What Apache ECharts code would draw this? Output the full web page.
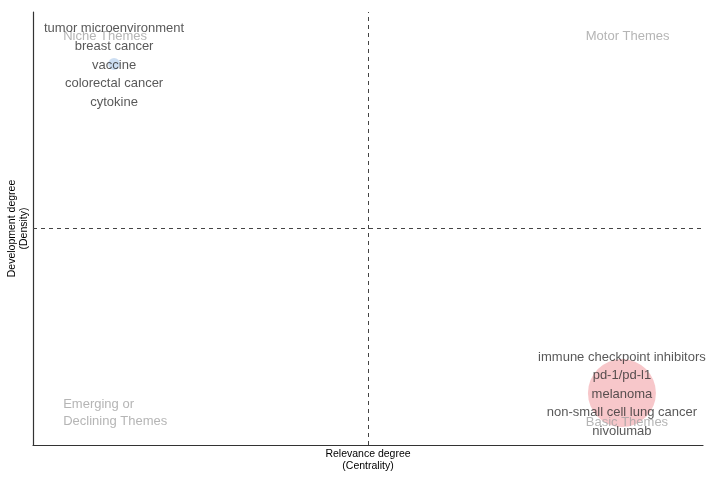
<!DOCTYPE html>
<html><head><meta charset="utf-8">
<script src="https://cdn.jsdelivr.net/npm/echarts@6/dist/echarts.min.js"></script>
<style>html,body{margin:0;padding:0;background:#fff}#c{width:715px;height:481px}</style>
</head><body><div id="c"></div>
<script>
// Cluster data
const clusterCentrality = [0.121, 0.879];
const clusterDensity = [0.88, 0.12];
const clusterSize = [12, 68];
const clusterColors = ['rgba(140,180,225,0.55)', 'rgba(235,110,118,0.48)'];
const clusterWords = [
  ['tumor microenvironment', 'breast cancer', 'vaccine', 'colorectal cancer', 'cytokine'],
  ['immune checkpoint inhibitors', 'pd-1/pd-l1', 'melanoma', 'non-small cell lung cancer', 'nivolumab']
];
// Quadrant labels
const quadrantNames = ['Niche Themes', 'Motor Themes', 'Emerging or\nDeclining Themes', 'Basic Themes'];
const quadrantX = [0.045, 0.825, 0.045, 0.825];
const quadrantY = [0.943, 0.943, 0.074, 0.053];
const midX = 0.5, midY = 0.5;

const chart = echarts.init(document.getElementById('c'));
const font = 'Liberation Sans, Arial, sans-serif';
const series = [];
clusterCentrality.forEach((cx, k) => {
  series.push({
    type: 'scatter', z: 2,
    data: [[cx, clusterDensity[k]]],
    symbolSize: clusterSize[k],
    itemStyle: { color: clusterColors[k] },
    silent: true
  });
});
series.push({
  type: 'scatter', z: 3, symbolSize: 0,
  data: quadrantNames.map((n, i) => ({ value: [quadrantX[i], quadrantY[i]], name: n })),
  label: { show: true, formatter: p => p.name, position: 'right', distance: 0,
    color: '#a3a3a3', fontSize: 13, fontFamily: font, align: 'left', lineHeight: 17 },
  silent: true
});
clusterWords.forEach((words, k) => {
  series.push({
    type: 'scatter', z: 4, symbolSize: 0,
    data: words.map((w, i) => ({ value: [clusterCentrality[k], clusterDensity[k]], name: w,
      label: { offset: [0, (i - 2) * 18.5 + 1] } })),
    label: { show: true, formatter: p => p.name, position: 'inside',
      color: '#2e2e2e', fontSize: 13, fontFamily: font },
    silent: true
  });
});
series.push({
  type: 'line', data: [], silent: true,
  markLine: { symbol: 'none', silent: true, label: { show: false },
    lineStyle: { color: '#444', type: [4, 4], width: 1 },
    data: [{ xAxis: midX }, { yAxis: midY }] }
});

chart.setOption({
  animation: false,
  grid: { left: 33, right: 12, top: 12, bottom: 36, outerBoundsMode: 'none', containLabel: false },
  xAxis: { type: 'value', min: 0, max: 1,
    name: 'Relevance degree\n(Centrality)', nameLocation: 'middle', nameGap: 3,
    nameTextStyle: { fontSize: 10.5, color: '#000', fontFamily: font, lineHeight: 12, verticalAlign: 'top' },
    axisLine: { show: true, lineStyle: { color: '#333', width: 1.2 } },
    axisTick: { show: false }, axisLabel: { show: false }, splitLine: { show: false } },
  yAxis: { type: 'value', min: 0, max: 1,
    name: 'Development degree\n(Density)', nameLocation: 'middle', nameGap: 3,
    nameTextStyle: { fontSize: 10.5, color: '#000', fontFamily: font, lineHeight: 12 },
    axisLine: { show: true, lineStyle: { color: '#333', width: 1.2 } },
    axisTick: { show: false }, axisLabel: { show: false }, splitLine: { show: false } },
  series: series
});
</script></body></html>
